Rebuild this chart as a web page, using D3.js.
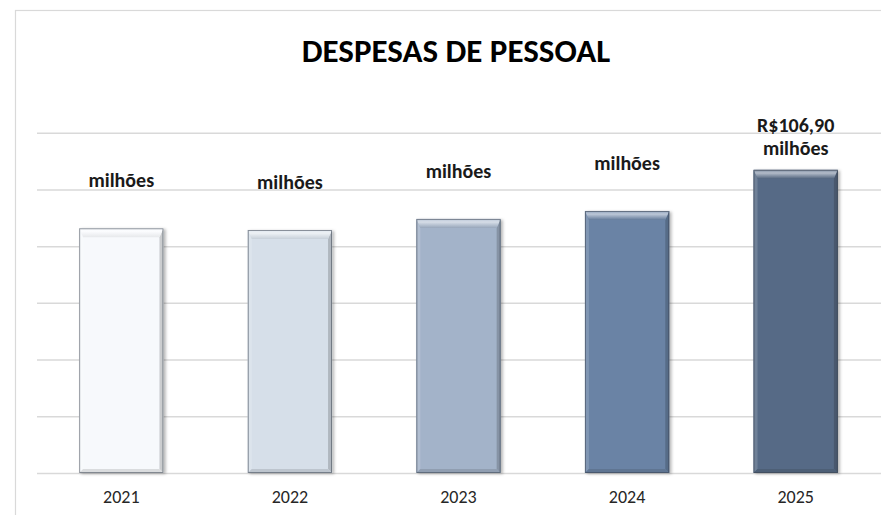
<!DOCTYPE html>
<html>
<head>
<meta charset="utf-8">
<script src="https://cdn.jsdelivr.net/npm/d3@7"></script>
<style>
  html, body { margin: 0; padding: 0; background: #ffffff; }
  svg { display: block; font-family: Carlito, Calibri, Lato, "Open Sans", sans-serif; }
</style>
</head>
<body>
<svg id="chart" width="881" height="515"></svg>
<script>
// Personnel expenses per year (R$ millions)
const years = ["2021", "2022", "2023", "2024", "2025"];
const values = [86.3, 85.7, 89.6, 92.4, 106.9];
// Only the last year shows its amount in the label
const showAmount = [false, false, false, false, true];
const barColors = ["#f7f9fc", "#d6dfe9", "#a3b3c9", "#6a83a5", "#576b86"];
const yTicks = [0, 20, 40, 60, 80, 100, 120];
const title = "DESPESAS DE PESSOAL";
const unitText = "milhões";

const W = 881, H = 515;
const svg = d3.select("#chart");
const defs = svg.append("defs");

// chart frame
svg.append("rect")
  .attr("x", 15.5).attr("y", 10.5)
  .attr("width", W + 20).attr("height", H + 20)
  .attr("fill", "#ffffff")
  .attr("stroke", "#d9d9d9").attr("stroke-width", 1.2);

const plot = { left: 37, right: 880, top: 132.7, bottom: 473 };

const x = d3.scaleBand().domain(years).range([plot.left, plot.right]).paddingInner(0.5).paddingOuter(0.25);
const y = d3.scaleLinear().domain([0, 120]).range([plot.bottom, plot.top]);

// horizontal gridlines
svg.append("g")
  .attr("transform", `translate(${plot.left},0)`)
  .call(d3.axisLeft(y).tickValues(yTicks).tickSize(-(W - plot.left)).tickFormat(""))
  .call(g => g.select(".domain").remove())
  .call(g => g.selectAll(".tick line").attr("stroke", "#d9d9d9").attr("stroke-width", 1.5));

// title
svg.append("text")
  .attr("x", 456).attr("y", 62)
  .attr("text-anchor", "middle")
  .attr("font-weight", "bold")
  .attr("font-size", 33)
  .attr("fill", "#000000")
  .text(title);

// drop shadow for the bevelled bars
const shadow = defs.append("filter").attr("id", "barShadow")
  .attr("x", "-10%").attr("y", "-10%").attr("width", "130%").attr("height", "130%");
shadow.append("feDropShadow")
  .attr("dx", 2).attr("dy", 1).attr("stdDeviation", 1.6)
  .attr("flood-color", "#000").attr("flood-opacity", 0.28);

const bars = svg.append("g");
const bevelTop = 9, bevelSide = 4;

years.forEach((yr, i) => {
  const c = d3.color(barColors[i]);
  const x0 = x(yr), x1 = x(yr) + x.bandwidth();
  const yT = y(values[i]), yB = y(0);

  const gradId = "topGrad" + i;
  const grad = defs.append("linearGradient").attr("id", gradId)
    .attr("x1", 0).attr("y1", 0).attr("x2", 0).attr("y2", 1);
  grad.append("stop").attr("offset", "0%").attr("stop-color", d3.interpolateRgb(c, "#ffffff")(0.25));
  grad.append("stop").attr("offset", "35%").attr("stop-color", d3.interpolateRgb(c, "#ffffff")(0.55));
  grad.append("stop").attr("offset", "100%").attr("stop-color", c.darker(0.2));

  const g = bars.append("g").attr("filter", "url(#barShadow)");
  g.append("rect")
    .attr("x", x0).attr("y", yT)
    .attr("width", x1 - x0).attr("height", yB - yT)
    .attr("fill", c);

  // left bevel
  g.append("polygon")
    .attr("points", [[x0, yT], [x0 + bevelSide, yT + bevelTop], [x0 + bevelSide, yB - bevelSide], [x0, yB]].join(" "))
    .attr("fill", d3.interpolateRgb(c, "#ffffff")(0.15));
  // right bevel
  g.append("polygon")
    .attr("points", [[x1, yT], [x1 - bevelSide, yT + bevelTop], [x1 - bevelSide, yB - bevelSide], [x1, yB]].join(" "))
    .attr("fill", c.darker(0.55));
  // bottom bevel
  g.append("polygon")
    .attr("points", [[x0, yB], [x0 + bevelSide, yB - bevelSide], [x1 - bevelSide, yB - bevelSide], [x1, yB]].join(" "))
    .attr("fill", c.darker(0.35));
  // top bevel
  g.append("polygon")
    .attr("points", [[x0, yT], [x1, yT], [x1 - bevelSide, yT + bevelTop], [x0 + bevelSide, yT + bevelTop]].join(" "))
    .attr("fill", `url(#${gradId})`);
  // outline
  g.append("rect")
    .attr("x", x0 + 0.5).attr("y", yT + 0.5)
    .attr("width", x1 - x0 - 1).attr("height", yB - yT - 1)
    .attr("fill", "none")
    .attr("stroke", d3.color("#3a4450")).attr("stroke-opacity", 0.55).attr("stroke-width", 1);

  // data label
  const fmt = v => "R$" + d3.format(".2f")(v).replace(".", ",");
  const lines = showAmount[i] ? [fmt(values[i]), unitText] : [unitText];
  const lastY = yT - (showAmount[i] ? 15 : 41);
  const lineH = 23;
  lines.forEach((t, k) => {
    svg.append("text")
      .attr("x", x0 + x.bandwidth() / 2)
      .attr("y", lastY - (lines.length - 1 - k) * lineH)
      .attr("text-anchor", "middle")
      .attr("font-weight", "bold")
      .attr("font-size", 20)
      .attr("fill", "#1a1a1a")
      .text(t);
  });
});

// category axis
svg.append("g")
  .attr("transform", `translate(0,${plot.bottom})`)
  .call(d3.axisBottom(x).tickSize(0).tickPadding(17))
  .call(g => g.select(".domain").remove())
  .call(g => g.selectAll("text").attr("font-size", 18).attr("fill", "#262626")
    .attr("font-family", "Carlito, Calibri, Lato, 'Open Sans', sans-serif"));
</script>
</body>
</html>
